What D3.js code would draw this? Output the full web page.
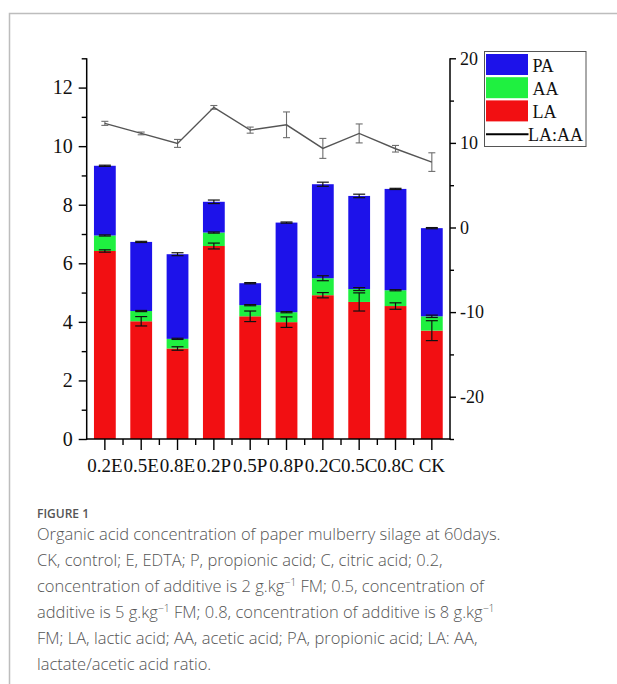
<!DOCTYPE html>
<html>
<head>
<meta charset="utf-8">
<script src="https://cdn.jsdelivr.net/npm/d3@7"></script>
<style>
  html, body { margin: 0; padding: 0; background: #fff; }
  svg { display: block; }
</style>
</head>
<body>
<svg id="chart" width="617" height="684"></svg>
<script>
// Treatments along the x axis
const categories = ["0.2E", "0.5E", "0.8E", "0.2P", "0.5P", "0.8P", "0.2C", "0.5C", "0.8C", "CK"];

// Organic acid concentrations (stacked: LA, then AA, then PA)
const LA = [6.42, 4.02, 3.09, 6.59, 4.19, 3.99, 4.91, 4.68, 4.54, 3.70];
const AA = [0.53, 0.35, 0.33, 0.46, 0.38, 0.34, 0.58, 0.44, 0.54, 0.49];
const PA = [2.38, 2.36, 2.89, 1.05, 0.75, 3.06, 3.21, 3.18, 3.46, 3.01];
// standard errors of each component
const LAerr = [0.04, 0.16, 0.06, 0.10, 0.18, 0.18, 0.09, 0.31, 0.11, 0.34];
const AAerr = [0.02, 0.02, 0.02, 0.02, 0.02, 0.02, 0.085, 0.05, 0.02, 0.04];
const PAerr = [0.02, 0.02, 0.05, 0.06, 0.02, 0.02, 0.07, 0.06, 0.02, 0.02];

// Lactate / acetate ratio (right axis)
const ratio = [12.31, 11.12, 9.94, 14.2, 11.51, 12.14, 9.35, 11.12, 9.31, 7.73];
const ratioErr = [0.24, 0.16, 0.47, 0.22, 0.36, 1.52, 1.18, 1.12, 0.39, 1.1];

// Axis ticks
const leftTicks = [0, 2, 4, 6, 8, 10, 12];
const leftMinor = [1, 3, 5, 7, 9, 11, 13];
const rightTicks = [20, 10, 0, -10, -20];
const rightMinor = [15, 5, -5, -15, -25];

const series = [
  { key: "LA", values: LA, err: LAerr, color: "#f20f12" },
  { key: "AA", values: AA, err: AAerr, color: "#1ff040" },
  { key: "PA", values: PA, err: PAerr, color: "#1d12ea" }
];

const captionLines = [
  [["Organic acid concentration of paper mulberry silage at 60days."]],
  [["CK, control; E, EDTA; P, propionic acid; C, citric acid; 0.2,"]],
  [["concentration of additive is 2 g.kg"], ["\u22121", "sup"], [" FM; 0.5, concentration of"]],
  [["additive is 5 g.kg"], ["\u22121", "sup"], [" FM; 0.8, concentration of additive is 8 g.kg"], ["\u22121", "sup"]],
  [["FM; LA, lactic acid; AA, acetic acid; PA, propionic acid; LA: AA,"]],
  [["lactate/acetic acid ratio."]]
];

const svg = d3.select("#chart");
const serif = "'Liberation Serif', 'Times New Roman', serif";

// page frame
svg.append("path")
  .attr("d", "M9.5,700 V13.5 H640")
  .attr("fill", "none").attr("stroke", "#bdbdbd").attr("stroke-width", 1.5);

const plot = { left: 86.7, right: 450, top: 58.3, bottom: 439 };

const x = d3.scaleBand().domain(categories).range([plot.left, plot.right])
  .paddingInner(0.4).paddingOuter(0.2);
const yL = d3.scaleLinear().domain([0, 13]).range([plot.bottom, plot.top]);
const yR = d3.scaleLinear().domain([-25, 20]).range([plot.bottom, plot.top]);

// stacked bars
const stackData = categories.map((c, i) => ({ cat: c, LA: LA[i], AA: AA[i], PA: PA[i] }));
const stacked = d3.stack().keys(["LA", "AA", "PA"])(stackData);

const barG = svg.append("g");
stacked.forEach((layer, li) => {
  barG.selectAll(null).data(layer).join("rect")
    .attr("x", d => x(d.data.cat))
    .attr("width", x.bandwidth())
    .attr("y", d => yL(d[1]))
    .attr("height", d => yL(d[0]) - yL(d[1]))
    .attr("fill", series[li].color);
});

// error bars at the top of each stacked segment
const capW = 12;
stacked.forEach((layer, li) => {
  const g = barG.append("g").attr("stroke", "#111").attr("stroke-width", 1.2);
  layer.forEach((d, i) => {
    const cx = x(d.data.cat) + x.bandwidth() / 2;
    const e = series[li].err[i];
    const y1 = yL(d[1] + e), y2 = yL(d[1] - e);
    g.append("line").attr("x1", cx).attr("x2", cx).attr("y1", y1).attr("y2", y2);
    g.append("line").attr("x1", cx - capW / 2).attr("x2", cx + capW / 2).attr("y1", y1).attr("y2", y1);
    g.append("line").attr("x1", cx - capW / 2).attr("x2", cx + capW / 2).attr("y1", y2).attr("y2", y2);
  });
});

// LA:AA ratio line with error bars
const cxOf = c => x(c) + x.bandwidth() / 2;
const lineG = svg.append("g");
const rErrG = lineG.append("g").attr("stroke", "#6e6e6e").attr("stroke-width", 1.1);
categories.forEach((c, i) => {
  const cx = cxOf(c);
  const y1 = yR(ratio[i] + ratioErr[i]), y2 = yR(ratio[i] - ratioErr[i]);
  rErrG.append("line").attr("x1", cx).attr("x2", cx).attr("y1", y1).attr("y2", y2);
  rErrG.append("line").attr("x1", cx - 3.5).attr("x2", cx + 3.5).attr("y1", y1).attr("y2", y1);
  rErrG.append("line").attr("x1", cx - 3.5).attr("x2", cx + 3.5).attr("y1", y2).attr("y2", y2);
});
lineG.append("path")
  .datum(categories.map((c, i) => [cxOf(c), yR(ratio[i])]))
  .attr("d", d3.line())
  .attr("fill", "none").attr("stroke", "#555").attr("stroke-width", 1.4);

// left axis
const axL = svg.append("g").attr("transform", `translate(${plot.left},0)`)
  .call(d3.axisLeft(yL).tickValues(leftTicks).tickSize(8).tickPadding(6).tickFormat(d3.format("d")));
axL.append("g").call(d3.axisLeft(yL).tickValues(leftMinor).tickSize(5).tickFormat(""));
axL.selectAll(".domain").remove();
axL.append("line").attr("y1", plot.top).attr("y2", plot.bottom + 0.7).attr("stroke", "#000").attr("stroke-width", 1.5);
axL.selectAll(".tick line").attr("stroke", "#000").attr("stroke-width", 1.4);
axL.selectAll(".tick text").attr("font-family", serif).attr("font-size", 20).attr("fill", "#111");

// right axis
const axR = svg.append("g").attr("transform", `translate(${plot.right},0)`)
  .call(d3.axisRight(yR).tickValues(rightTicks).tickSize(6).tickPadding(4).tickFormat(d => String(d)));
axR.append("g").call(d3.axisRight(yR).tickValues(rightMinor).tickSize(4).tickFormat(""));
axR.selectAll(".domain").remove();
axR.append("line").attr("y1", plot.top).attr("y2", plot.bottom + 0.7).attr("stroke", "#000").attr("stroke-width", 1.5);
axR.selectAll(".tick line").attr("stroke", "#000").attr("stroke-width", 1.4);
axR.selectAll(".tick text").attr("font-family", serif).attr("font-size", 18).attr("fill", "#111");

// bottom axis
const axB = svg.append("g").attr("transform", `translate(0,${plot.bottom})`)
  .call(d3.axisBottom(x).tickSize(11).tickPadding(9));
const bounds = categories.map(c => x(c) - x.step() * x.paddingInner() / 2).slice(1);
axB.append("g").selectAll("line").data(bounds).join("line")
  .attr("x1", d => d).attr("x2", d => d).attr("y1", 0).attr("y2", 6)
  .attr("stroke", "#000").attr("stroke-width", 1.4);
axB.selectAll(".domain").remove();
axB.append("line").attr("x1", plot.left - 0.7).attr("x2", plot.right + 0.7)
  .attr("stroke", "#000").attr("stroke-width", 1.5);
axB.selectAll(".tick line").attr("stroke", "#000").attr("stroke-width", 1.4);
axB.selectAll(".tick text").attr("font-family", serif).attr("font-size", 19).attr("fill", "#111");

// legend
const leg = svg.append("g").attr("transform", "translate(484.5,51.5)");
leg.append("rect").attr("width", 101.5).attr("height", 95).attr("fill", "#fff")
  .attr("stroke", "#555").attr("stroke-width", 1);
const legItems = [series[2], series[1], series[0]];
legItems.forEach((s, i) => {
  leg.append("rect").attr("x", 1.5).attr("y", 2.5 + i * 23.2).attr("width", 42).attr("height", 21)
    .attr("fill", s.color);
  leg.append("text").attr("x", 48).attr("y", 20 + i * 23.2)
    .attr("font-family", serif).attr("font-size", 18).attr("fill", "#111").text(s.key);
});
leg.append("line").attr("x1", 1.5).attr("x2", 44).attr("y1", 82.8).attr("y2", 82.8)
  .attr("stroke", "#000").attr("stroke-width", 2);
leg.append("text").attr("x", 43.5).attr("y", 89)
  .attr("font-family", serif).attr("font-size", 18).attr("fill", "#111").text("LA:AA");

// caption
const sans = "'Open Sans', 'Noto Sans', sans-serif";
svg.append("text").attr("x", 37).attr("y", 517.5)
  .attr("font-family", sans).attr("font-size", 12).attr("fill", "#555")
  .attr("font-weight", 600).text("FIGURE 1");

const cap = svg.append("text").attr("font-family", sans).attr("font-size", 16.5)
  .attr("font-weight", 300).attr("fill", "#555");
captionLines.forEach((parts, li) => {
  const t = cap.append("tspan").attr("x", 37).attr("y", 540 + li * 26);
  let raised = false;
  parts.forEach(([str, kind]) => {
    if (kind === "sup") {
      t.append("tspan").attr("font-size", 10.5).attr("dy", -6).text(str);
      raised = true;
    } else {
      t.append("tspan").attr("dy", raised ? 6 : 0).text(str);
      raised = false;
    }
  });
});
</script>
</body>
</html>
